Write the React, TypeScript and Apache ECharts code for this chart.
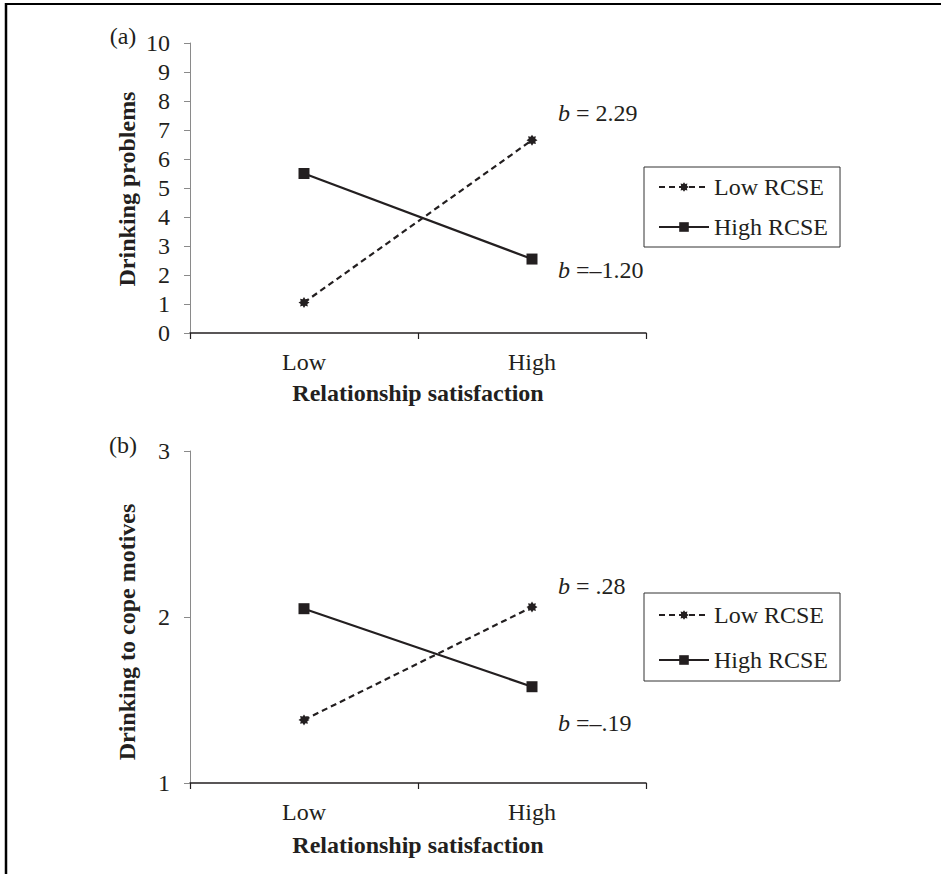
import React, { useEffect, useRef } from "react";
import * as echarts from "echarts";

const categories = ["Low", "High"];
const seriesNames = ["Low RCSE", "High RCSE"];
const lowRcseA = [1.05, 6.65];
const highRcseA = [5.5, 2.55];
const lowRcseB = [1.38, 2.06];
const highRcseB = [2.05, 1.58];
const annotationsA = ["{i|b} = 2.29", "{i|b} =\u20131.20"];
const annotationsB = ["{i|b} = .28", "{i|b} =\u2013.19"];
const yNameA = "Drinking problems";
const yNameB = "Drinking to cope motives";
const xName = "Relationship satisfaction";

const FONT = "'Liberation Serif', 'Times New Roman', serif";
const INK = "#231f20";
const STAR =
  "path://M20 10 L16.0 12.5 L17.07 17.07 L12.5 16.0 L10 20 L7.5 16.0 L2.93 17.07 L4.0 12.5 L0 10 L4.0 7.5 L2.93 2.93 L7.5 4.0 L10 0 L12.5 4.0 L17.07 2.93 L16.0 7.5 Z";

function xAxis(gridIndex: number, nameGap: number) {
  return {
    type: "category",
    gridIndex,
    data: categories,
    boundaryGap: true,
    name: xName,
    nameLocation: "middle",
    nameGap,
    nameTextStyle: { fontFamily: FONT, fontSize: 24, fontWeight: "bold", color: INK, lineHeight: 24 },
    axisLine: { lineStyle: { color: INK, width: 1.5 } },
    axisTick: { show: true, alignWithLabel: false, length: 6, lineStyle: { color: INK, width: 1.2 } },
    axisLabel: { fontFamily: FONT, fontSize: 24, color: INK, margin: 17, lineHeight: 24 },
    splitLine: { show: false },
  };
}

function yAxis(gridIndex: number, min: number, max: number) {
  return {
    type: "value",
    gridIndex,
    min,
    max,
    interval: 1,
    axisLine: { show: true, lineStyle: { color: "#8a8a8a", width: 1 } },
    axisTick: { show: true, length: 6, lineStyle: { color: "#8a8a8a", width: 1 } },
    axisLabel: { fontFamily: FONT, fontSize: 24, color: INK, margin: 20 },
    splitLine: { show: false },
  };
}

function lineSeries(name: string, data: number[], idx: number, dashed: boolean) {
  return {
    type: "line",
    name,
    xAxisIndex: idx,
    yAxisIndex: idx,
    data,
    symbol: dashed ? STAR : "rect",
    symbolSize: dashed ? 11 : 11,
    showSymbol: true,
    itemStyle: { color: INK },
    lineStyle: { color: INK, width: 2.2, type: dashed ? [6, 4] : "solid" },
    z: dashed ? 3 : 4,
  };
}

function legend(top: number, gap: number, padTop: number, padBottom: number) {
  return {
    orient: "vertical",
    left: 644,
    top,
    data: seriesNames,
    itemWidth: 50,
    itemHeight: 12,
    itemGap: gap,
    padding: [padTop, 12, padBottom, 14],
    borderColor: "#333",
    borderWidth: 1,
    textStyle: { fontFamily: FONT, fontSize: 24, color: INK, lineHeight: 24 },
    selectedMode: false,
  };
}

function annotation(text: string, x: number, y: number) {
  return {
    type: "text",
    x,
    y,
    style: {
      text,
      fontFamily: FONT,
      fontSize: 24,
      fill: INK,
      verticalAlign: "middle",
      align: "left",
      rich: { i: { fontStyle: "italic", fontFamily: FONT, fontSize: 24, fill: INK } },
    },
  };
}

function rotatedName(text: string, x: number, y: number) {
  return {
    type: "text",
    x,
    y,
    rotation: Math.PI / 2,
    style: {
      text,
      fontFamily: FONT,
      fontSize: 24,
      fontWeight: "bold",
      fill: INK,
      align: "center",
      verticalAlign: "middle",
    },
  };
}

export default function App() {
  const ref = useRef<HTMLDivElement>(null);
  useEffect(() => {
    if (!ref.current) return;
    const chart = echarts.init(ref.current, null, { renderer: "svg" });
    chart.setOption({
      animation: false,
      backgroundColor: "#ffffff",
      grid: [
        { left: 190, top: 43, width: 456, height: 290, containLabel: false },
        { left: 190, top: 451, width: 456, height: 332, containLabel: false },
      ],
      xAxis: [xAxis(0, 48), xAxis(1, 50)],
      yAxis: [yAxis(0, 0, 10), yAxis(1, 1, 3)],
      legend: [legend(167, 16, 8, 8), legend(593, 21, 10, 9)],
      series: [
        lineSeries(seriesNames[0], lowRcseA, 0, true),
        lineSeries(seriesNames[1], highRcseA, 0, false),
        lineSeries(seriesNames[0], lowRcseB, 1, true),
        lineSeries(seriesNames[1], highRcseB, 1, false),
      ],
      graphic: [
        { type: "line", shape: { x1: 5, y1: 4, x2: 941, y2: 4 }, style: { stroke: "#000", lineWidth: 2 } },
        { type: "line", shape: { x1: 6, y1: 3, x2: 6, y2: 874 }, style: { stroke: "#000", lineWidth: 2.5 } },
        {
          type: "text", x: 123, y: 36,
          style: { text: "(a)", fontFamily: FONT, fontSize: 24, fill: INK, align: "center", verticalAlign: "middle" },
        },
        {
          type: "text", x: 123, y: 445,
          style: { text: "(b)", fontFamily: FONT, fontSize: 24, fill: INK, align: "center", verticalAlign: "middle" },
        },
        rotatedName(yNameA, 127, 189),
        rotatedName(yNameB, 127, 632),
        annotation(annotationsA[0], 558, 113),
        annotation(annotationsA[1], 558, 270),
        annotation(annotationsB[0], 558, 586),
        annotation(annotationsB[1], 558, 723),
      ],
    });
    return () => chart.dispose();
  }, []);
  return (
    <div
      ref={ref}
      style={{ position: "absolute", left: 0, top: 0, width: 941, height: 874, background: "#fff" }}
    />
  );
}
